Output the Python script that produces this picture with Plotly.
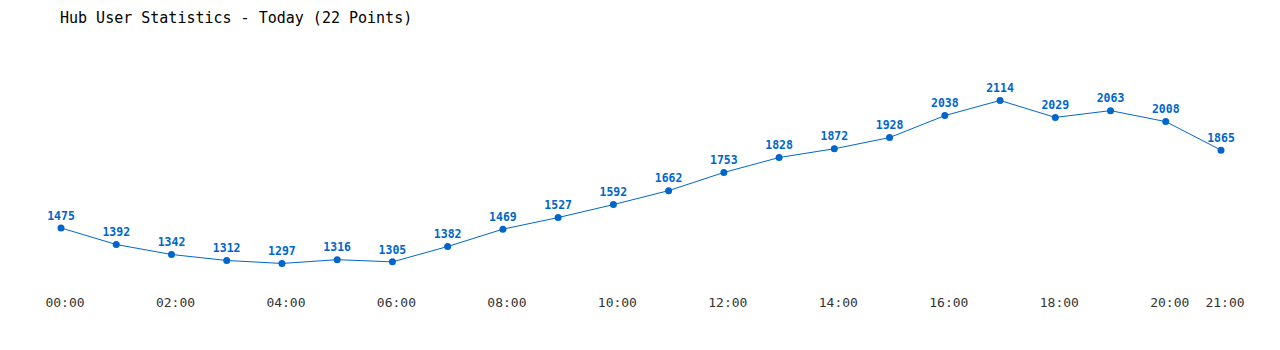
import plotly.graph_objects as go

hours = list(range(22))
users = [1475, 1392, 1342, 1312, 1297, 1316, 1305, 1382, 1469, 1527, 1592,
         1662, 1753, 1828, 1872, 1928, 2038, 2114, 2029, 2063, 2008, 1865]
tick_vals = [0, 2, 4, 6, 8, 10, 12, 14, 16, 18, 20, 21]
tick_text = ["00:00", "02:00", "04:00", "06:00", "08:00", "10:00", "12:00",
             "14:00", "16:00", "18:00", "20:00", "21:00"]

MONO = "DejaVu Sans Mono, Liberation Mono, monospace"
BLUE = "#0066cc"

fig = go.Figure(go.Scatter(
    x=hours, y=users, mode="lines+markers+text",
    line=dict(color=BLUE, width=1),
    marker=dict(color=BLUE, size=7),
    text=[f"<b>{v}</b>" for v in users],
    textposition="top center",
    textfont=dict(family=MONO, size=11.5, color=BLUE),
    cliponaxis=False,
    hoverinfo="x+y",
))

fig.update_layout(
    width=1280, height=350,
    margin=dict(l=61, r=59, t=40, b=60),
    paper_bgcolor="white", plot_bgcolor="white",
    showlegend=False,
    title=dict(text="Hub User Statistics - Today (22 Points)",
               font=dict(family=MONO, size=15, color="#000"),
               xref="container", yref="container",
               x=60/1280, xanchor="left", y=1-18/350, yanchor="middle"),
    xaxis=dict(range=[0, 21], tickvals=tick_vals, ticktext=tick_text,
               showgrid=False, zeroline=False, showline=False, ticks="",
               ticklabelshift=4, ticklabelstandoff=3,
               tickfont=dict(family=MONO, size=13, color="#333")),
    yaxis=dict(range=[1164, 2417], visible=False, showgrid=False, zeroline=False),
)

fig.write_html("out.html")
